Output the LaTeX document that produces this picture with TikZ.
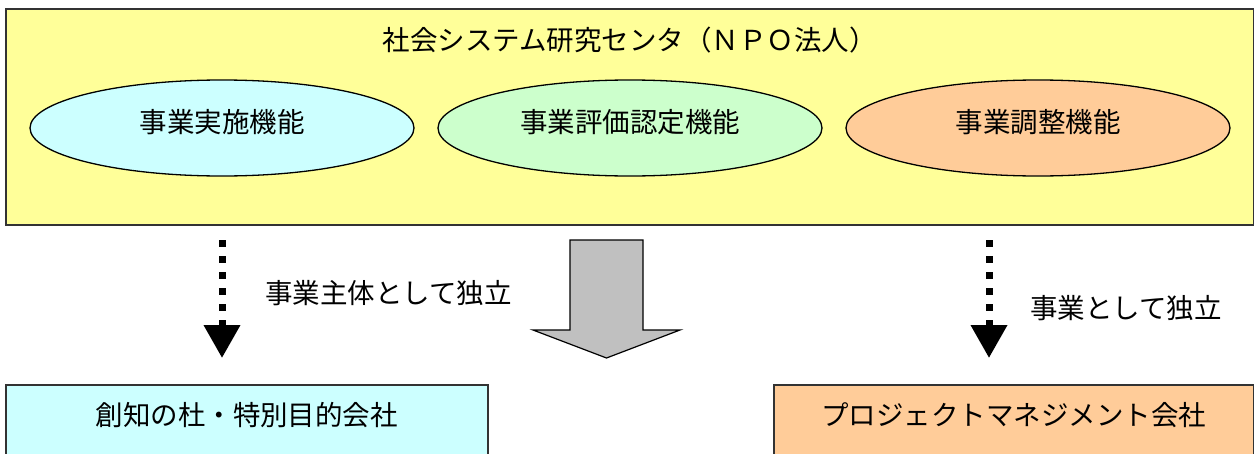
\documentclass[tikz,border=0pt]{standalone}
\usepackage{fontspec}
\setmainfont{Noto Sans CJK JP}
\usetikzlibrary{shapes.geometric,arrows.meta}
\definecolor{orgyellow}{HTML}{FFFF99}
\definecolor{lcyan}{HTML}{CCFFFF}
\definecolor{lgreen}{HTML}{CCFFCC}
\definecolor{lorange}{HTML}{FFCC99}
\definecolor{blockgray}{HTML}{C0C0C0}
\begin{document}
\begin{tikzpicture}[x=1pt,y=-1pt,
  every node/.style={font=\fontsize{27.5}{32}\selectfont},
  orgbox/.style={draw=black!80, line width=1.5pt, fill=orgyellow, rectangle,
    inner sep=0pt, minimum width=1248pt, anchor=north west,
    text height=42pt, text depth=174pt},
  func/.style={draw=black, line width=1.3pt, ellipse, inner sep=0pt,
    minimum width=384pt, minimum height=96pt, text height=12pt, text depth=4pt},
  company/.style={draw=black!80, line width=1.5pt, rectangle, inner sep=0pt,
    anchor=north west, text height=41pt, text depth=60pt},
  dotarrow/.style={line width=7pt, dash pattern=on 7pt off 9pt,
    -{Triangle[length=33pt,width=35pt]}},
  blockarrow/.style={draw=black, line width=1.2pt, fill=blockgray, line join=miter},
  note/.style={anchor=west, inner sep=0pt}
]
\useasboundingbox (0,0) rectangle (1254,453);
\clip (0,0) rectangle (1254,453);
\node[orgbox] (org) at (5,8) {社会システム研究センタ（ＮＰＯ法人）};
\node[func, fill=lcyan] (f1) at (222,128) {事業実施機能};
\node[func, fill=lgreen] (f2) at (630,128) {事業評価認定機能};
\node[func, fill=lorange] (f3) at (1038,128) {事業調整機能};

\coordinate (a1s) at (222,240);
\coordinate (a1e) at (222,358);
\draw[dotarrow] (a1s) -- (a1e);
\node[note] (n1) at (265,293) {事業主体として独立};

\coordinate (a3s) at (989,240);
\coordinate (a3e) at (989,358);
\draw[dotarrow] (a3s) -- (a3e);
\node[note] (n3) at (1030,308) {事業として独立};

\draw[blockarrow] (570,240) -- (643,240) -- (643,330) -- (680,330)
  -- (606.5,358) -- (533,330) -- (570,330) -- cycle;

\node[company, fill=lcyan, minimum width=482pt] (c1) at (5,384) {創知の杜・特別目的会社};
\node[company, fill=lorange, minimum width=480pt] (c2) at (773,384) {プロジェクトマネジメント会社};
\end{tikzpicture}
\end{document}
